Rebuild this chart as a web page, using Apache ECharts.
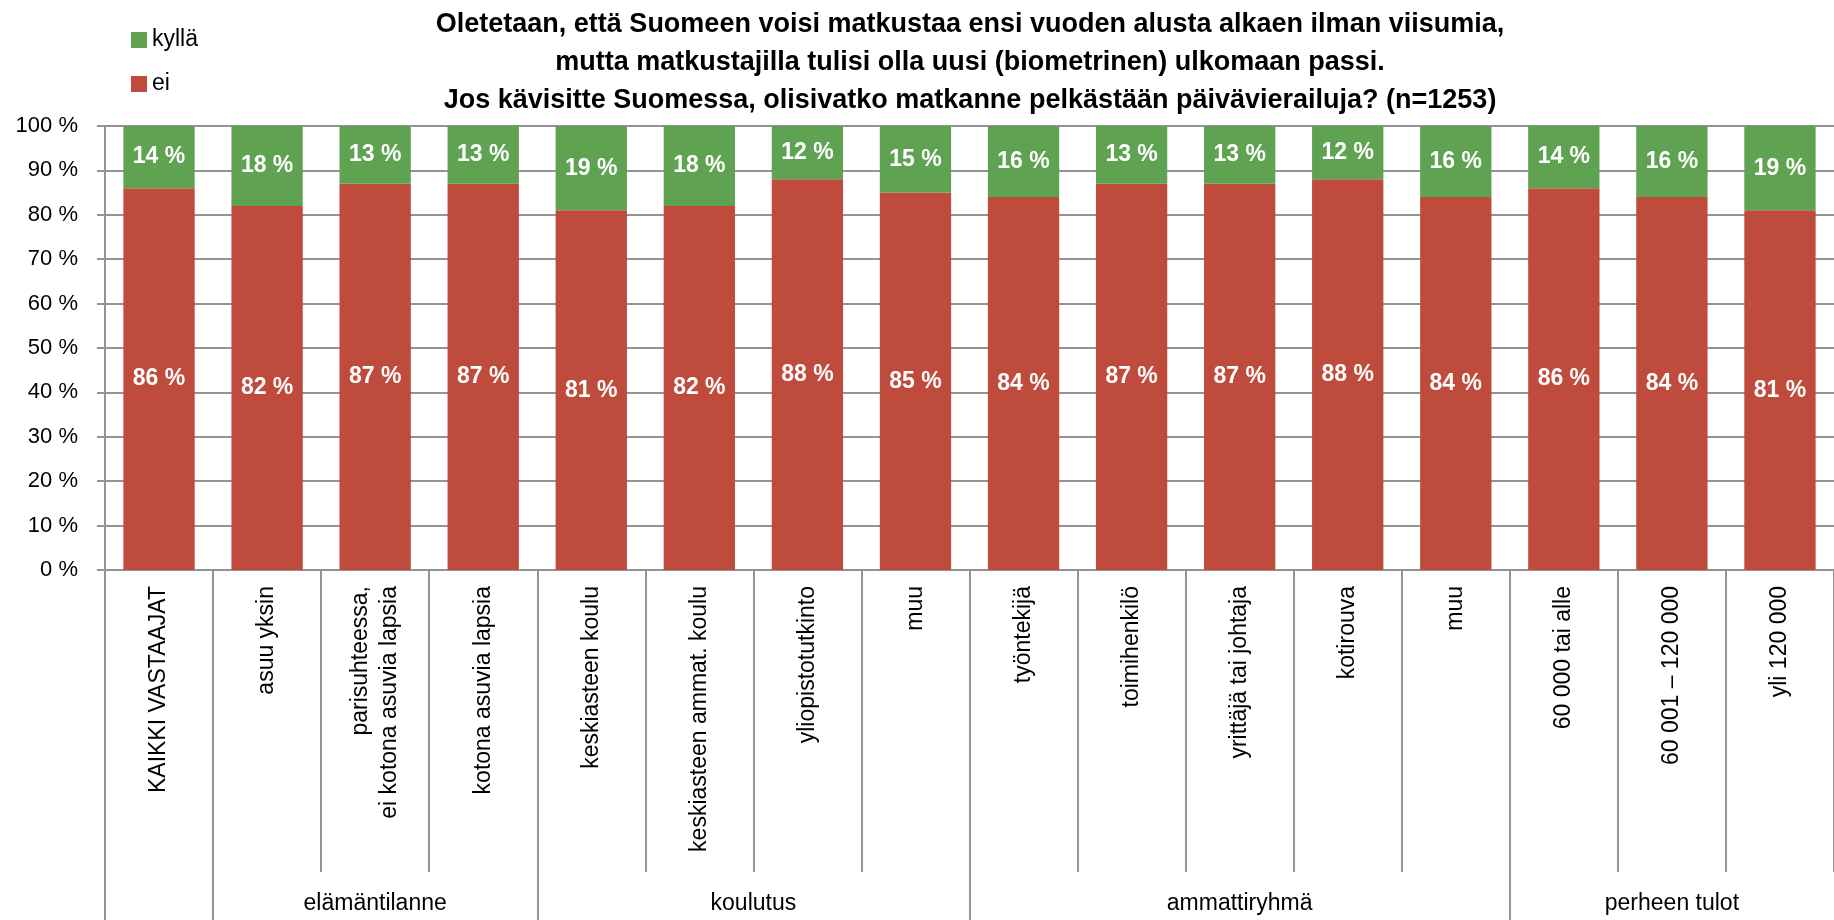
<!DOCTYPE html>
<html>
<head>
<meta charset="utf-8">
<script src="https://cdn.jsdelivr.net/npm/echarts@6/dist/echarts.min.js"></script>
<style>
  html, body { margin: 0; padding: 0; background: #fff; }
  #chart { width: 1834px; height: 920px; }
</style>
</head>
<body>
<div id="chart"></div>
<script>
const categories = [
  "KAIKKI VASTAAJAT",
  "asuu yksin",
  "parisuhteessa,\nei kotona asuvia lapsia",
  "kotona asuvia lapsia",
  "keskiasteen koulu",
  "keskiasteen ammat. koulu",
  "yliopistotutkinto",
  "muu",
  "työntekijä",
  "toimihenkilö",
  "yrittäjä tai johtaja",
  "kotirouva",
  "muu",
  "60 000 tai alle",
  "60 001 – 120 000",
  "yli 120 000"
];
const eiValues = [86, 82, 87, 87, 81, 82, 88, 85, 84, 87, 87, 88, 84, 86, 84, 81];
const kyllaValues = [14, 18, 13, 13, 19, 18, 12, 15, 16, 13, 13, 12, 16, 14, 16, 19];

// group rows under the category labels (start/end as category indexes)
const groupNames = ["elämäntilanne", "koulutus", "ammattiryhmä", "perheen tulot"];
const groupStart = [1, 4, 8, 13];
const groupEnd = [4, 8, 13, 16];

const titleText = "Oletetaan, että Suomeen voisi matkustaa ensi vuoden alusta alkaen ilman viisumia,\n" +
  "mutta matkustajilla tulisi olla uusi (biometrinen) ulkomaan passi.\n" +
  "Jos kävisitte Suomessa, olisivatko matkanne pelkästään päivävierailuja? (n=1253)";

const FONT = "Liberation Sans";
const GRAY = "#939393";

const groupCenters = groupStart.map((s, i) => (s + groupEnd[i]) / 2);
const groupTicks = [0].concat(groupStart);

const chart = echarts.init(document.getElementById("chart"));

chart.setOption({
  animation: false,
  textStyle: { fontFamily: FONT },
  title: {
    text: titleText,
    left: 965,
    top: 1,
    textAlign: "center",
    textStyle: {
      fontFamily: FONT,
      fontSize: 27,
      fontWeight: "bold",
      color: "#000",
      lineHeight: 38
    }
  },
  legend: {
    data: ["kyllä", "ei"],
    orient: "vertical",
    left: 126,
    top: 23,
    itemWidth: 16,
    itemHeight: 16,
    itemGap: 20,
    icon: "rect",
    textStyle: { fontFamily: FONT, fontSize: 23, color: "#000", lineHeight: 24 }
  },
  grid: {
    left: 105,
    right: -10,
    top: 126,
    bottom: 350,
    containLabel: false
  },
  xAxis: [
    {
      type: "category",
      data: categories,
      axisLine: { show: true, lineStyle: { color: GRAY, width: 2 } },
      axisTick: {
        show: true,
        interval: 0,
        length: 302,
        lineStyle: { color: GRAY, width: 2 }
      },
      axisLabel: {
        interval: 0,
        rotate: 90,
        margin: 16,
        fontFamily: FONT,
        fontSize: 23,
        lineHeight: 29,
        color: "#000"
      },
      splitLine: { show: false }
    },
    {
      type: "value",
      min: 0,
      max: 16,
      position: "bottom",
      axisLine: { show: false },
      splitLine: { show: false },
      axisTick: {
        show: true,
        customValues: groupTicks,
        length: 360,
        lineStyle: { color: GRAY, width: 2 }
      },
      axisLabel: {
        customValues: groupCenters,
        margin: 322,
        fontFamily: FONT,
        fontSize: 23,
        color: "#000",
        formatter: function (v) {
          const i = groupCenters.indexOf(v);
          return i >= 0 ? groupNames[i] : "";
        }
      }
    }
  ],
  yAxis: {
    type: "value",
    min: 0,
    max: 100,
    interval: 10,
    axisLine: { show: true, lineStyle: { color: GRAY, width: 2 } },
    axisTick: { show: true, length: 8, lineStyle: { color: GRAY, width: 2 } },
    axisLabel: {
      formatter: "{value} %",
      margin: 27,
      fontFamily: FONT,
      fontSize: 22,
      color: "#000"
    },
    splitLine: { show: true, lineStyle: { color: GRAY, width: 2 } }
  },
  series: [
    {
      name: "ei",
      type: "bar",
      stack: "all",
      data: eiValues,
      barCategoryGap: "34%",
      itemStyle: { color: "#BE4B3C" },
      label: {
        show: true,
        position: "inside",
        formatter: "{c} %",
        color: "#fff",
        fontFamily: FONT,
        fontSize: 23,
        fontWeight: "bold"
      }
    },
    {
      name: "kyllä",
      type: "bar",
      stack: "all",
      data: kyllaValues,
      barCategoryGap: "34%",
      itemStyle: { color: "#5FA352" },
      label: {
        show: true,
        position: "inside",
        formatter: "{c} %",
        color: "#fff",
        fontFamily: FONT,
        fontSize: 23,
        fontWeight: "bold"
      }
    }
  ]
});
</script>
</body>
</html>
